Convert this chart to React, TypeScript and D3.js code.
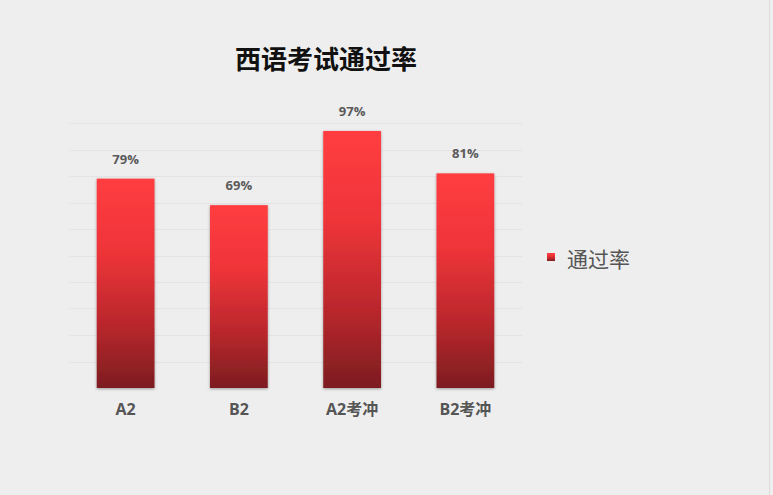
import { useEffect, useRef } from "react"
import * as d3 from "d3"

const categories = ["A2", "B2", "A2考冲", "B2考冲"]
const passRates = [79, 69, 97, 81]
const gridTicks = [10, 20, 30, 40, 50, 60, 70, 80, 90, 100]
const title = "西语考试通过率"
const seriesName = "通过率"

const W = 773, H = 495
const FONT = "'Open Sans', 'Noto Sans CJK SC', sans-serif"

export default function App() {
  const ref = useRef<SVGSVGElement>(null)
  useEffect(() => {
    if (!ref.current) return
    const root = d3.select(ref.current)
    root.selectAll("*").remove()

    const m = { left: 69, right: 251, top: 123, bottom: 107 }
    const x = d3.scaleBand().domain(categories).range([m.left, W - m.right]).paddingInner(0.49).paddingOuter(0.245)
    const y = d3.scaleLinear().domain([0, 100]).range([H - m.bottom, m.top])

    const defs = root.append("defs")
    const grad = defs.append("linearGradient").attr("id", "barGrad").attr("x1", 0).attr("y1", 0).attr("x2", 0).attr("y2", 1)
    grad.append("stop").attr("offset", "0%").attr("stop-color", "#ff3d41")
    grad.append("stop").attr("offset", "35%").attr("stop-color", "#ee3439")
    grad.append("stop").attr("offset", "70%").attr("stop-color", "#b9272c")
    grad.append("stop").attr("offset", "100%").attr("stop-color", "#7c1d20")
    const f = defs.append("filter").attr("id", "shadow").attr("x", "-20%").attr("y", "-10%").attr("width", "140%").attr("height", "120%")
    f.append("feDropShadow").attr("dx", 0).attr("dy", 1).attr("stdDeviation", 1.5).attr("flood-color", "#000").attr("flood-opacity", 0.35)

    root.append("rect").attr("width", W).attr("height", H).attr("fill", "#eeeeee")

    root.append("g").selectAll("line").data(gridTicks).join("line")
      .attr("x1", m.left).attr("x2", W - m.right)
      .attr("y1", d => Math.round(y(d)) + 0.5).attr("y2", d => Math.round(y(d)) + 0.5)
      .attr("stroke", "#e4e4e4").attr("stroke-width", 1)

    root.append("text").attr("x", 326).attr("y", 69).attr("text-anchor", "middle")
      .style("font-family", FONT).style("font-size", "26px").style("font-weight", "bold").style("fill", "#111")
      .text(title)

    const bars = root.append("g")
    bars.selectAll("rect").data(passRates).join("rect")
      .attr("x", (_, i) => x(categories[i])!).attr("width", x.bandwidth())
      .attr("y", d => y(d)).attr("height", d => y(0) - y(d))
      .attr("fill", "url(#barGrad)").attr("filter", "url(#shadow)")

    root.append("g").selectAll("text").data(passRates).join("text")
      .attr("x", (_, i) => x(categories[i])! + x.bandwidth() / 2).attr("y", d => y(d) - 15)
      .attr("text-anchor", "middle").style("font-family", FONT).style("font-size", "13px")
      .style("font-weight", "bold").style("fill", "#5a5a5a")
      .text(d => `${d}%`)

    root.append("g").selectAll("text").data(categories).join("text")
      .attr("x", d => x(d)! + x.bandwidth() / 2).attr("y", y(0) + 27)
      .attr("text-anchor", "middle").style("font-family", FONT).style("font-size", "16px")
      .style("font-weight", "bold").style("fill", "#555")
      .text(d => d)

    const lg = root.append("g").attr("transform", "translate(547,258)")
    lg.append("rect").attr("x", 0).attr("y", -5).attr("width", 8).attr("height", 8).attr("fill", "url(#barGrad)")
    lg.append("text").attr("x", 20).attr("y", 1).attr("dominant-baseline", "central")
      .style("font-family", FONT).style("font-size", "21px").style("fill", "#555")
      .text(seriesName)

    root.append("line").attr("x1", W - 3.5).attr("x2", W - 3.5).attr("y1", 0).attr("y2", H)
      .attr("stroke", "#dcdcdc")
  }, [])
  return <svg ref={ref} width={W} height={H} style={{ position: "fixed", left: 0, top: 0, display: "block" }} />
}
